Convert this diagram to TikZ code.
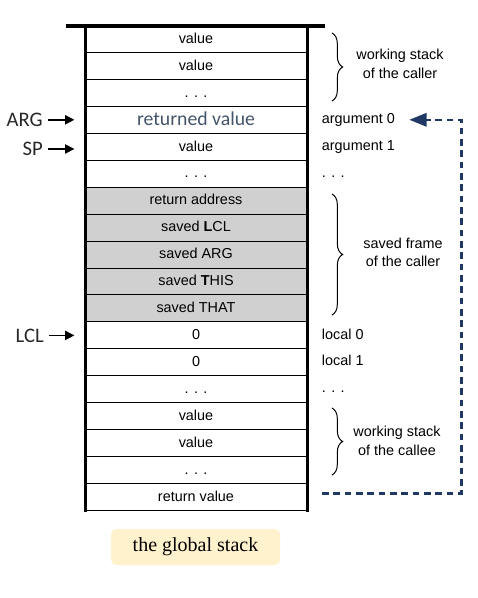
\documentclass[tikz,border=0pt]{standalone}
\usepackage{fontspec}
\setmainfont{Liberation Sans}
\newfontfamily\labelfont{Carlito}
\newfontfamily\captionfont{Liberation Serif}
\usetikzlibrary{positioning,arrows.meta,decorations.pathreplacing}
\definecolor{framegray}{RGB}{208,208,208}
\definecolor{slateblue}{RGB}{68,84,106}
\definecolor{navylink}{RGB}{31,56,100}
\definecolor{pointergray}{RGB}{40,40,40}
\definecolor{notefill}{RGB}{255,242,204}
\begin{document}
\begin{tikzpicture}[x=0.75pt,y=0.75pt,yscale=-1,xscale=1,
    cell/.style={draw, line width=0.75pt, outer sep=0pt, inner sep=0pt, minimum width=166.5pt, minimum height=20.21pt, text height=8pt, text depth=1.6pt, font=\fontsize{10.8}{13}\selectfont},
    framecell/.style={cell, fill=framegray},
    wall/.style={line width=2.25pt},
    sidetext/.style={inner sep=0pt, text height=7pt, text depth=1.6pt, font=\fontsize{10.8}{13}\selectfont},
    regname/.style={inner sep=0pt, anchor=east, text=pointergray, font=\labelfont\fontsize{15.5}{18}\selectfont},
    pointer/.style={-{Triangle[length=7pt,width=7pt]}, line width=1.1pt, shorten <=4pt, shorten >=8pt},
    bracket/.style={decorate, decoration={brace, amplitude=8pt}, line width=0.75pt},
    bracetext/.style={align=center, font=\fontsize{10.8}{14}\selectfont},
    returnlink/.style={navylink, line width=1.7pt, dash pattern=on 5pt off 3.5pt, -{Triangle[length=13pt,width=10pt]}},
    globalbox/.style={fill=notefill, rounded corners=4pt, minimum width=126.75pt, minimum height=27pt, font=\captionfont\fontsize{15}{18}\selectfont}]
    \useasboundingbox (0,0) rectangle (477,598);
    % Stack cells
    \node[cell] (r0) at (196,39) {value};
    \node[cell, below=0pt of r0] (r1) {value};
    \node[cell, below=0pt of r1] (r2) {. . .};
    \node[cell, below=0pt of r2, font=\labelfont\fontsize{14.8}{17}\selectfont, text=slateblue, text height=10pt, text depth=1.4pt] (r3) {returned value};
    \node[cell, below=0pt of r3] (r4) {value};
    \node[cell, below=0pt of r4] (r5) {. . .};
    \node[framecell, below=0pt of r5] (r6) {return address};
    \node[framecell, below=0pt of r6] (r7) {saved \textbf{L}CL};
    \node[framecell, below=0pt of r7] (r8) {saved ARG};
    \node[framecell, below=0pt of r8] (r9) {saved \textbf{T}HIS};
    \node[framecell, below=0pt of r9] (r10) {saved THAT};
    \node[cell, below=0pt of r10] (r11) {0};
    \node[cell, below=0pt of r11] (r12) {0};
    \node[cell, below=0pt of r12] (r13) {. . .};
    \node[cell, below=0pt of r13] (r14) {value};
    \node[cell, below=0pt of r14] (r15) {value};
    \node[cell, below=0pt of r15] (r16) {. . .};
    \node[cell, below=0pt of r16] (r17) {return value};
    % Stack walls
    \draw[wall, line width=3pt] ([xshift=-14.25pt]r0.north west) -- ([xshift=13.5pt]r0.north east);
    \draw[wall, line cap=rect] (r0.north west) -- (r17.south west);
    \draw[wall, line cap=rect] (r0.north east) -- (r17.south east);
    % Pointers
    \node[regname] (argp) at (43,119.8) {ARG};
    \node[regname] (spp) at (43,149) {SP};
    \node[regname] (lclp) at (44,335.4) {LCL};
    \draw[pointer] (argp) -- (argp -| r3.west);
    \draw[pointer] (spp) -- (spp -| r4.west);
    \draw[pointer] (lclp) -- (lclp -| r11.west);
    % Text Node
    \node[sidetext, right=11pt of r3] (arg0) {argument 0};
    \node[sidetext, right=11pt of r4] (arg1) {argument 1};
    \node[sidetext, right=11pt of r5] (argdots) {. . .};
    \node[sidetext, right=11pt of r11] (loc0) {local 0};
    \node[sidetext, right=11pt of r12] (loc1) {local 1};
    \node[sidetext, right=11pt of r13] (locdots) {. . .};
    % Braces
    \draw[bracket] (332,33) -- (332,101);
    \draw[bracket] (332,194) -- (332,315);
    \draw[bracket] (332,408) -- (332,475);
    \node[bracetext] (callerws) at (400,64) {working stack\\of the caller};
    \node[bracetext] (callerframe) at (403,252.5) {saved frame\\of the caller};
    \node[bracetext] (calleews) at (397,441) {working stack\\of the callee};
    % Return link
    \coordinate (retout) at (322,493.5);
    \coordinate (argtip) at (409.3,119.8);
    \draw[returnlink] (retout) -- (461.5,493.5) |- (argtip);
    % Text Node
    \node[globalbox] (gstack) at (195.5,547) {the global stack};
\end{tikzpicture}
\end{document}
